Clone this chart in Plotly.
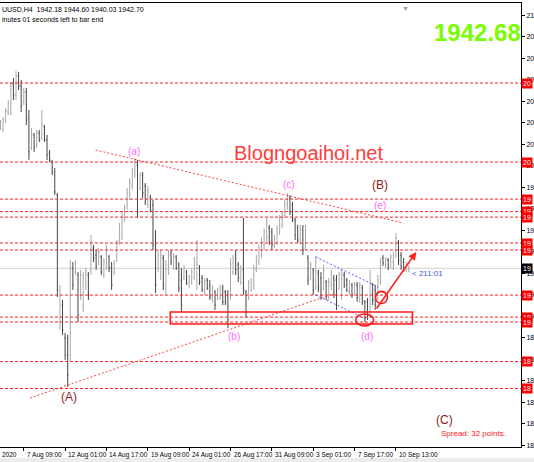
import plotly.graph_objects as go

# ---------------- data (XAUUSD H4) ----------------
opens = [2037.0, 2036.3, 2042.4, 2047.7, 2051.8, 2066.6, 2059.2, 2071.9, 2065.2, 2054.5,
         2061.2, 2043.7, 2023.5, 2032.3, 2025.6, 2033.6, 2030.3, 2037.7, 2028.9, 2020.2,
         2014.1, 2007.4, 1992.0, 1906.6, 1918.0, 1895.9, 1884.4, 1884.4, 1942.9, 1940.2,
         1938.2, 1924.8, 1918.0, 1931.5, 1938.2, 1941.6, 1956.3, 1951.6, 1946.9, 1950.3,
         1938.2, 1944.9, 1950.3, 1942.9, 1940.2, 1949.6, 1960.4, 1965.1, 1976.5, 1985.2,
         1992.0, 1998.0, 2005.4, 2012.1, 1996.7, 2005.4, 1998.0, 1985.2, 1989.9, 1985.2,
         1961.7, 1942.9, 1938.2, 1949.6, 1929.5, 1941.6, 1953.0, 1944.2, 1950.3, 1944.9,
         1934.8, 1936.2, 1940.2, 1931.5, 1933.5, 1936.2, 1934.8, 1942.9, 1936.2, 1926.8,
         1934.8, 1931.5, 1922.7, 1926.8, 1922.7, 1923.4, 1929.5, 1926.8, 1924.8, 1924.8,
         1940.2, 1951.6, 1944.9, 1933.5, 1941.6, 1926.8, 1923.4, 1928.1, 1931.5, 1941.6,
         1946.9, 1951.6, 1958.4, 1963.1, 1969.8, 1967.1, 1958.4, 1960.4, 1967.1, 1971.8,
         1978.5, 1985.2, 1989.9, 1985.2, 1975.2, 1969.8, 1960.4, 1968.4, 1956.3, 1949.6,
         1936.2, 1941.6, 1929.5, 1940.2, 1936.2, 1929.5, 1933.5, 1923.4, 1931.5, 1936.2,
         1934.8, 1929.5, 1924.8, 1938.2, 1934.8, 1926.8, 1931.5, 1926.1, 1931.5, 1921.4,
         1929.5, 1920.1, 1920.1, 1913.3, 1931.5, 1928.1, 1923.4, 1933.5, 1949.6, 1944.9,
         1948.3, 1944.9, 1946.9, 1951.6, 1960.4, 1951.6, 1946.9, 1941.6, 1942.18]

highs = [2042.4, 2044.4, 2050.4, 2055.8, 2067.9, 2070.6, 2075.3, 2074.6, 2069.2, 2063.9,
         2063.9, 2049.1, 2037.0, 2033.6, 2035.6, 2035.6, 2049.1, 2039.0, 2032.3, 2022.2,
         2015.5, 2010.1, 1993.3, 1931.5, 1921.4, 1899.2, 1897.9, 1948.3, 1946.9, 1948.3,
         1940.2, 1941.6, 1940.2, 1942.9, 1940.2, 1965.1, 1958.4, 1955.0, 1956.3, 1951.6,
         1949.6, 1958.4, 1951.6, 1946.9, 1948.3, 1961.7, 1973.1, 1980.5, 1985.2, 1996.7,
         2003.4, 2010.1, 2016.8, 2015.5, 2007.4, 2007.4, 2000.0, 1998.0, 1992.0, 1988.6,
         1968.4, 1955.0, 1955.0, 1951.6, 1948.3, 1955.0, 1955.0, 1953.0, 1951.6, 1946.9,
         1942.9, 1944.9, 1941.6, 1938.2, 1942.9, 1950.3, 1961.7, 1944.9, 1938.2, 1936.2,
         1936.2, 1934.8, 1931.5, 1928.1, 1929.5, 1931.5, 1931.5, 1928.1, 1928.1, 1949.6,
         1951.6, 1955.0, 1946.9, 1944.9, 1976.5, 1928.1, 1934.8, 1936.2, 1944.9, 1951.6,
         1958.4, 1963.1, 1969.8, 1976.5, 1971.8, 1969.8, 1965.1, 1971.8, 1978.5, 1980.5,
         1988.6, 1993.3, 1992.0, 1987.3, 1976.5, 1971.8, 1971.8, 1971.8, 1971.8, 1951.6,
         1946.9, 1942.9, 1951.0, 1941.6, 1940.2, 1944.9, 1934.8, 1936.2, 1941.6, 1938.2,
         1938.2, 1940.2, 1941.6, 1940.2, 1936.2, 1934.8, 1932.8, 1933.5, 1933.5, 1933.5,
         1931.5, 1921.4, 1922.7, 1941.6, 1932.8, 1931.5, 1938.2, 1949.6, 1951.6, 1950.3,
         1949.6, 1952.3, 1953.7, 1966.4, 1961.7, 1953.7, 1949.6, 1946.9, 1944.60]

lows = [2035.6, 2034.3, 2040.3, 2045.7, 2045.7, 2055.8, 2055.8, 2062.5, 2047.7, 2052.4,
        2039.0, 2015.5, 2022.2, 2020.9, 2023.5, 2027.6, 2028.9, 2027.6, 2015.5, 2014.1,
        2005.4, 1992.0, 1923.4, 1901.2, 1897.9, 1881.1, 1862.9, 1879.8, 1928.1, 1938.2,
        1906.6, 1921.4, 1913.3, 1928.1, 1921.4, 1938.2, 1946.9, 1941.6, 1944.9, 1938.2,
        1936.2, 1941.6, 1940.2, 1928.1, 1938.2, 1946.9, 1958.4, 1961.7, 1973.8, 1981.9,
        1988.6, 1995.3, 2003.4, 1976.5, 1995.3, 1989.9, 1985.2, 1983.2, 1980.5, 1955.0,
        1926.1, 1940.2, 1934.8, 1928.1, 1924.8, 1938.2, 1944.9, 1941.6, 1941.6, 1926.8,
        1913.3, 1934.8, 1931.5, 1929.5, 1931.5, 1934.8, 1928.1, 1931.5, 1926.8, 1924.8,
        1928.1, 1921.4, 1920.1, 1914.7, 1921.4, 1921.4, 1918.0, 1918.0, 1902.6, 1921.4,
        1938.2, 1938.2, 1933.5, 1931.5, 1924.8, 1909.3, 1921.4, 1926.8, 1928.1, 1940.2,
        1944.9, 1949.6, 1955.0, 1960.4, 1958.4, 1955.0, 1956.3, 1958.4, 1965.1, 1969.8,
        1976.5, 1981.9, 1978.5, 1973.8, 1961.7, 1959.7, 1958.4, 1951.6, 1955.0, 1931.5,
        1934.8, 1924.8, 1928.1, 1926.8, 1921.4, 1928.1, 1921.4, 1921.4, 1928.1, 1922.7,
        1914.7, 1928.1, 1921.4, 1929.5, 1926.8, 1924.8, 1922.7, 1924.1, 1920.1, 1919.4,
        1918.0, 1906.6, 1908.0, 1909.3, 1918.0, 1914.7, 1921.4, 1931.5, 1944.2, 1942.9,
        1941.6, 1942.9, 1941.6, 1949.6, 1944.9, 1941.6, 1940.2, 1940.2, 1940.03]

closes = [2041.0, 2042.4, 2048.4, 2053.8, 2065.2, 2059.2, 2071.9, 2065.2, 2051.8, 2061.2,
          2042.4, 2020.9, 2033.0, 2023.5, 2033.6, 2028.9, 2039.0, 2028.9, 2018.8, 2015.5,
          2007.4, 1994.0, 1928.1, 1926.8, 1901.2, 1884.4, 1871.0, 1941.6, 1931.5, 1946.3,
          1911.3, 1938.2, 1936.2, 1940.2, 1924.8, 1960.4, 1949.6, 1944.2, 1953.7, 1940.2,
          1946.9, 1955.0, 1942.9, 1931.5, 1946.3, 1959.7, 1969.8, 1978.5, 1983.2, 1993.3,
          2000.0, 2007.4, 2014.1, 1980.5, 2005.4, 1993.3, 1987.3, 1995.3, 1981.9, 1958.4,
          1931.5, 1951.6, 1951.6, 1931.5, 1944.9, 1951.6, 1946.9, 1951.0, 1942.9, 1929.5,
          1918.0, 1942.9, 1932.8, 1936.2, 1940.2, 1946.9, 1944.9, 1933.5, 1928.1, 1933.5,
          1929.5, 1923.4, 1929.5, 1918.0, 1928.1, 1929.5, 1920.1, 1920.1, 1908.0, 1944.9,
          1949.6, 1941.6, 1936.2, 1942.9, 1928.1, 1913.3, 1932.8, 1934.8, 1942.9, 1949.6,
          1956.3, 1960.4, 1967.1, 1973.8, 1960.4, 1958.4, 1963.1, 1969.8, 1976.5, 1978.5,
          1986.6, 1991.3, 1980.5, 1976.5, 1965.1, 1961.7, 1968.4, 1955.0, 1968.4, 1934.8,
          1944.9, 1928.1, 1946.9, 1929.5, 1924.8, 1941.6, 1923.4, 1933.5, 1940.2, 1924.8,
          1920.1, 1938.2, 1938.2, 1931.5, 1928.1, 1932.8, 1924.8, 1931.5, 1922.7, 1931.5,
          1920.1, 1909.3, 1911.3, 1934.8, 1921.4, 1918.0, 1934.8, 1946.9, 1946.3, 1948.3,
          1942.9, 1950.3, 1951.6, 1963.1, 1948.3, 1944.2, 1941.6, 1944.9, 1942.70]

bar_index = list(range(len(closes)))

time_tick_index = [9, 25, 41, 57, 73, 89, 105, 121, 137, 153]
time_tick_labels = ["7 Aug 09:00", "12 Aug 01:00", "14 Aug 17:00", "19 Aug 09:00",
                    "24 Aug 01:00", "26 Aug 17:00", "31 Aug 09:00", "3 Sep 01:00",
                    "7 Sep 17:00", "10 Sep 13:00"]

price_ticks = [2112.9, 2098.4, 2084.0, 2069.5, 2055.1, 2040.6, 2026.2, 2011.7,
               1997.3, 1982.9, 1968.4, 1953.9, 1939.5, 1925.1, 1910.6,
               1896.2, 1881.7, 1867.3, 1852.8, 1838.4, 1823.9]

levels = [2067.2, 2014.1, 1989.2, 1980.8, 1977.1, 1959.7, 1955.0,
          1924.7, 1909.9, 1906.6, 1880.0, 1861.9]

current_price = 1942.70
bid_display = "1942.68"

# wave labels: (text, bar index, price)
wave_small = [("(a)", 51.8, 2021.5), ("(b)", 90.4, 1897.2), ("(c)", 111.6, 1999.3),
              ("(d)", 141.7, 1897.2), ("(e)", 146.7, 1985.2)]
wave_big = [("(A)", 26.4, 1856.2), ("(B)", 146.7, 1998.6), ("(C)", 171.7, 1841.0)]

# trend lines: (x0, y0, x1, y1) in bar index / price
red_trend = [(36.8, 2022.2, 155.9, 1973.1), (11.4, 1855.5, 129.7, 1926.1)]
blue_trend = [(122.0, 1950.3, 146.3, 1930.1), (122.0, 1924.8, 140.5, 1909.3)]

# ---------------- figure ----------------
FONT = "Liberation Sans, Arial, sans-serif"
fig = go.Figure()

fig.add_trace(go.Ohlc(
    x=bar_index, open=opens, high=highs, low=lows, close=closes,
    increasing=dict(line=dict(color="#a8a8a8", width=1)),
    decreasing=dict(line=dict(color="#444444", width=1)),
    tickwidth=0.35, hoverinfo="skip", showlegend=False))

shapes = []
# current price line
shapes.append(dict(type="line", xref="paper", x0=0, x1=1, yref="y",
                   y0=current_price, y1=current_price,
                   line=dict(color="#d8d8d8", width=1.2), layer="below"))
# horizontal levels
for lv in levels:
    shapes.append(dict(type="line", xref="paper", x0=0, x1=1, yref="y", y0=lv, y1=lv,
                       line=dict(color="#ff2020", width=1, dash="3px,2px")))
# trendlines
for x0, y0, x1, y1 in red_trend:
    shapes.append(dict(type="line", xref="x", yref="y", x0=x0, y0=y0, x1=x1, y1=y1,
                       line=dict(color="#ff4040", width=1, dash="2px,2px")))
for x0, y0, x1, y1 in blue_trend:
    shapes.append(dict(type="line", xref="x", yref="y", x0=x0, y0=y0, x1=x1, y1=y1,
                       line=dict(color="#5a5aff", width=1, dash="2px,2px")))
# rectangle zone
shapes.append(dict(type="rect", xref="x", yref="y", x0=65.7, x1=159.4, y0=1905.3, y1=1913.3,
                   line=dict(color="#ff1a1a", width=1.6)))
# circles
shapes.append(dict(type="circle", xref="x", yref="y", x0=145.1, x1=149.7, y0=1919.0, y1=1927.2,
                   line=dict(color="#ff1a1a", width=1.6)))
shapes.append(dict(type="circle", xref="x", yref="y", x0=137.4, x1=144.4, y0=1904.0, y1=1912.0,
                   line=dict(color="#ff1a1a", width=1.6)))
# bottom grey strip
shapes.append(dict(type="rect", xref="paper", yref="paper", x0=-0.01, x1=1.03,
                   y0=-0.035, y1=-0.025, fillcolor="#ececec", line=dict(width=0)))

ann = []
# arrow
ann.append(dict(x=160.9, y=1953.7, ax=145.1, ay=1914.7, xref="x", yref="y",
                axref="x", ayref="y", showarrow=True, arrowhead=2, arrowsize=1,
                arrowwidth=1.6, arrowcolor="#ff2020", text=""))
# wave labels
for t, xi, p in wave_small:
    ann.append(dict(x=xi, y=p, xref="x", yref="y", text=t, showarrow=False,
                    font=dict(family=FONT, size=10, color="#ff6cff")))
for t, xi, p in wave_big:
    ann.append(dict(x=xi, y=p, xref="x", yref="y", text=t, showarrow=False,
                    font=dict(family=FONT, size=12, color="#8b1c1c")))
# blog text
ann.append(dict(x=0.593, y=0.662, xref="paper", yref="paper", text="Blogngoaihoi.net",
                showarrow=False, font=dict(family=FONT, size=20, color="#ff3b3b")))
# big bid
ann.append(dict(x=0.995, y=0.968, xref="paper", yref="paper", xanchor="right", xshift=5,
                text="<b>" + bid_display + "</b>", showarrow=False,
                font=dict(family=FONT, size=24, color="#7cfc00")))
# header
ann.append(dict(x=0, y=1.0, xref="paper", yref="paper", xanchor="left", yanchor="top",
                yshift=-1, text="UUSD,H4  1942.18 1944.60 1940.03 1942.70", showarrow=False,
                font=dict(family=FONT, size=7, color="#000000")))
ann.append(dict(x=0, y=1.0, xref="paper", yref="paper", xanchor="left", yanchor="top",
                yshift=-11, text="inutes 01 seconds left to bar end", showarrow=False,
                font=dict(family=FONT, size=7, color="#000000")))
# chart shift marker
ann.append(dict(x=413 / 523, y=1.0, xref="paper", yref="paper", yanchor="top",
                text="▼", showarrow=False, font=dict(family=FONT, size=7, color="#9a9a9a")))
# countdown
ann.append(dict(x=158.6, y=1939.3, xref="x", yref="y", xanchor="left", text="< 211:01",
                showarrow=False, font=dict(family=FONT, size=8, color="#3b5bdb")))
# spread
ann.append(dict(x=0.843, y=0.016, xref="paper", yref="paper", xanchor="left",
                text="Spread: 32 points.", showarrow=False,
                font=dict(family=FONT, size=8, color="#ff2020")))
# right-axis level boxes
for lv in levels:
    ann.append(dict(x=1, y=lv, xref="paper", yref="y", xanchor="left", xshift=0,
                    text=f"{lv:.0f}"[:2], showarrow=False, bgcolor="#ff0000",
                    borderpad=1, font=dict(family=FONT, size=7, color="#ffffff")))
ann.append(dict(x=1, y=current_price, xref="paper", yref="y", xanchor="left",
                text=f"{current_price:.0f}"[:2], showarrow=False, bgcolor="#000000",
                borderpad=1, font=dict(family=FONT, size=7, color="#ffffff")))
# time labels
ann.append(dict(x=0, y=0, xref="paper", yref="paper", xanchor="left", yanchor="top",
                yshift=-2, text="2020", showarrow=False,
                font=dict(family=FONT, size=6.5, color="#000000")))
for xi, t in zip(time_tick_index, time_tick_labels):
    ann.append(dict(x=xi, y=0, xref="x", yref="paper", xanchor="left", yanchor="top",
                    xshift=1, yshift=-2, text=t, showarrow=False,
                    font=dict(family=FONT, size=6.5, color="#000000")))

fig.update_layout(
    width=534, height=462,
    margin=dict(l=0, r=11, t=3, b=15),
    paper_bgcolor="#ffffff", plot_bgcolor="#ffffff",
    showlegend=False, shapes=shapes, annotations=ann,
    xaxis=dict(range=[-0.19, 201.4], showgrid=False, zeroline=False,
               tickvals=time_tick_index, ticks="outside", ticklen=3, tickcolor="#000",
               showticklabels=False, showline=True, linecolor="#000", linewidth=1,
               mirror=True, rangeslider=dict(visible=False), fixedrange=True),
    yaxis=dict(range=[1822.6, 2121.0], side="right", showgrid=False, zeroline=False,
               tickvals=price_ticks, ticktext=[f"{v:.0f}"[:2] for v in price_ticks],
               ticks="outside", ticklen=3, tickcolor="#000",
               tickfont=dict(family=FONT, size=7, color="#000"),
               showline=True, linecolor="#000", linewidth=1, fixedrange=True),
)

fig.write_html("out.html", config={"displayModeBar": False},
               post_script="document.body.style.margin='0px';document.body.style.overflow='hidden';")
